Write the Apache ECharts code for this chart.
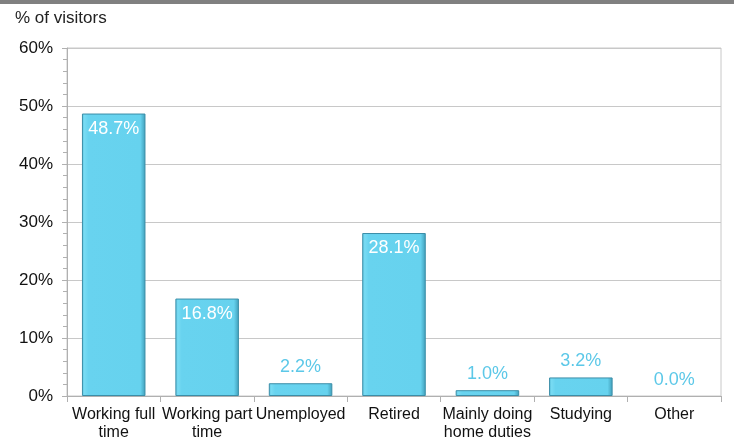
<!DOCTYPE html>
<html><head><meta charset="utf-8">
<script src="https://cdn.jsdelivr.net/npm/echarts@6/dist/echarts.min.js"></script>
<style>html,body{margin:0;padding:0;background:#fff}#c{width:734px;height:437px}</style>
</head><body><div id="c"></div>
<script>
var categories = ['Working full\ntime','Working part\ntime','Unemployed','Retired','Mainly doing\nhome duties','Studying','Other'];
var values = [48.7, 16.8, 2.2, 28.1, 1.0, 3.2, 0.0];
var insideLabel = [true, true, false, true, false, false, false];
var yTitle = '% of visitors';

var chart = echarts.init(document.getElementById('c'));
var font = '"Liberation Sans", Arial, sans-serif';
var data = values.map(function(v, i){
  var d = {
    value: v,
    label: insideLabel[i]
      ? {position: 'insideTop', distance: 6, color: '#ffffff'}
      : {position: 'top', distance: 7, color: '#5cc8e8'}
  };
  if (v === 0) d.itemStyle = {borderWidth: 0, color: 'rgba(0,0,0,0)'};
  return d;
});
chart.setOption({
  animation: false,
  graphic: [
    {type:'rect', shape:{x:0,y:0,width:734,height:4}, style:{fill:'#808080'}},
    {type:'text', left:15, top:10, style:{text:yTitle, font:'17px ' + font, fill:'#222'}}
  ],
  grid: {left:67, right:13, top:48, bottom:41, show:true, borderColor:'#c8c8c8', borderWidth:1,
         containLabel:false, outerBoundsMode:'none'},
  xAxis: {
    type:'category', data:categories,
    axisLine:{lineStyle:{color:'#b0b0b0'}},
    axisTick:{show:true, lineStyle:{color:'#b0b0b0'}, length:6},
    axisLabel:{color:'#111', fontSize:16, fontFamily:font, lineHeight:18, margin:10, interval:0}
  },
  yAxis: {
    type:'value', min:0, max:60, interval:10,
    axisLine:{show:true, lineStyle:{color:'#b0b0b0'}},
    axisTick:{show:true, length:5, lineStyle:{color:'#b0b0b0'}},
    minorTick:{show:true, splitNumber:5, length:4, lineStyle:{color:'#b0b0b0'}},
    splitLine:{lineStyle:{color:'#c8c8c8'}},
    axisLabel:{formatter:'{value}%', color:'#111', fontSize:17, fontFamily:font, margin:14}
  },
  series: [{
    type:'bar', data:data, barCategoryGap:'32%',
    itemStyle:{
      color:{type:'linear', x:0, y:0, x2:1, y2:0, colorStops:[
        {offset:0, color:'#5cc6e2'},{offset:0.04, color:'#78dbf3'},{offset:0.1, color:'#68d3ef'},
        {offset:0.92, color:'#66d2ee'},{offset:1, color:'#3f9db8'}]},
      borderColor:'#3b8ea8', borderWidth:1
    },
    label:{show:true, formatter:function(p){return p.value.toFixed(1)+'%';}, fontSize:18, fontFamily:font}
  }]
});
</script></body></html>
